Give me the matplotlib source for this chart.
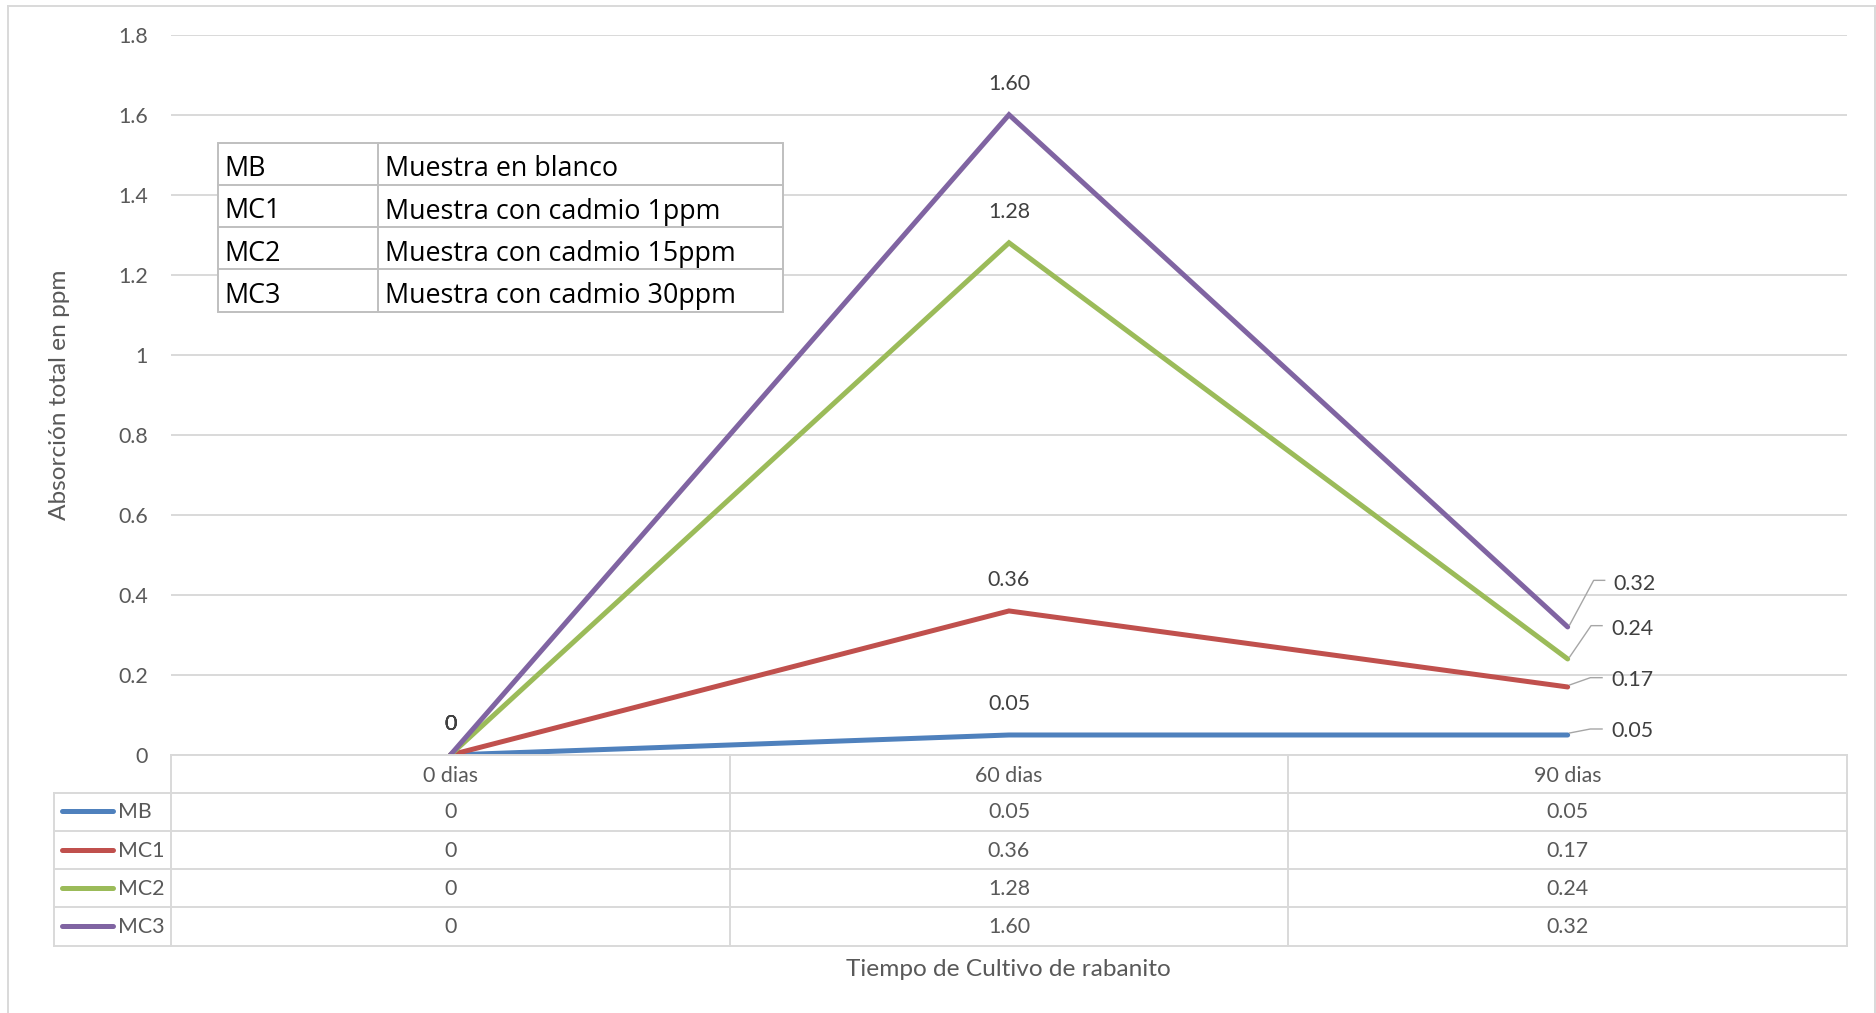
import matplotlib
matplotlib.use("Agg")
import matplotlib.pyplot as plt
from matplotlib.lines import Line2D
from matplotlib.patches import Rectangle
from matplotlib.transforms import blended_transform_factory

# ---- data ----
categories = ["0 dias", "60 dias", "90 dias"]
series_names = ["MB", "MC1", "MC2", "MC3"]
mb = [0, 0.05, 0.05]
mc1 = [0, 0.36, 0.17]
mc2 = [0, 1.28, 0.24]
mc3 = [0, 1.60, 0.32]
descriptions = ["Muestra en blanco", "Muestra con cadmio 1ppm",
                "Muestra con cadmio 15ppm", "Muestra con cadmio 30ppm"]
y_ticks = [0, 0.2, 0.4, 0.6, 0.8, 1.0, 1.2, 1.4, 1.6, 1.8]
y_tick_labels = ["0", "0.2", "0.4", "0.6", "0.8", "1", "1.2", "1.4", "1.6", "1.8"]
x_title = "Tiempo de Cultivo de rabanito"
y_title = "Absorción total en ppm"

series_values = [mb, mc1, mc2, mc3]
colors = ["#4F81BD", "#C0504D", "#9BBB59", "#8064A2"]

# ---- style ----
plt.rcParams["font.family"] = ["Lato", "DejaVu Sans"]
BOX_FONT = ["Open Sans", "DejaVu Sans"]
TXT = "#595959"
LBL = "#404040"
GRID = "#D9D9D9"
W, H = 1876, 1013


def fx(px):
    return px / W


def fy(py):
    return 1 - py / H


def fmt(v):
    return "0" if v == 0 else f"{v:.2f}"


fig = plt.figure(figsize=(W / 100, H / 100), dpi=100)
fig.patch.set_facecolor("white")

# outer chart frame
for xs_, ys_ in [((8, 8), (5.7, H)), ((8, 1874.5), (5.7, 5.7)), ((1874.5, 1874.5), (5.7, H))]:
    fig.add_artist(Line2D([fx(x) for x in xs_], [fy(y) for y in ys_], color=GRID, lw=1.4))

plot_top, plot_bottom, plot_left, plot_right = 34.7, 755, 171, 1847
ax = fig.add_axes([fx(plot_left), fy(plot_bottom),
                   fx(plot_right) - fx(plot_left), fy(plot_top) - fy(plot_bottom)])
ax.set_xlim(-0.5, len(categories) - 0.5)
ax.set_ylim(0, 1.8)
ax.set_yticks(y_ticks, y_tick_labels)
ax.set_xticks([])
ax.tick_params(axis="y", length=0, pad=16.5, labelsize=15.4, labelcolor=TXT)
for s in ax.spines.values():
    s.set_visible(False)
ax.yaxis.grid(True, color=GRID, lw=1.4)
ax.set_axisbelow(True)

xs = list(range(len(categories)))
for vals, c in zip(series_values, colors):
    ax.plot(xs, vals, color=c, lw=3.6, solid_capstyle="round",
            solid_joinstyle="miter", zorder=3)

# data labels above first two points
for vals in series_values:
    for i in range(2):
        ax.annotate(fmt(vals[i]), (xs[i], vals[i]), xytext=(0, 31),
                    textcoords="offset pixels", ha="center", va="center",
                    fontsize=15.4, color=LBL, zorder=4)

# data labels with leader lines at the last point
# (knee dx, knee dy, end dx, text dx, text dy) in pixels
end_label_layout = [(22.7, 6, 34.4, 44, 4.0),
                    (22.7, 9.3, 34.4, 44, 7.3),
                    (23.4, 33.3, 34.4, 44, 30.3),
                    (26, 46.6, 37, 46, 42.6)]
fig.canvas.draw()
for vals, lay in zip(series_values, end_label_layout):
    kx, ky, ex, tx, ty = lay
    px, py = ax.transData.transform((xs[-1], vals[-1]))
    fig.add_artist(Line2D([px + 2, px + kx, px + ex], [py + 2, py + ky, py + ky],
                          transform=None, color="#A6A6A6", lw=1.0, zorder=5))
    fig.text((px + tx) / W, (py + ty) / H, fmt(vals[-1]), ha="left", va="center",
             fontsize=15.4, color=LBL)

# ---- data table below the plot ----
rows = [755, 792.5, 830.5, 869, 907, 945.5]
table_left = 54
TXT_SHIFT = 2  # nudge centred table text slightly downward (pixels)
bt = blended_transform_factory(ax.transData, fig.transFigure)
for b in [-0.5 + k for k in range(len(categories) + 1)]:
    fig.add_artist(Line2D([b, b], [fy(rows[0]), fy(rows[-1])], transform=bt,
                          color=GRID, lw=1.4))
fig.add_artist(Line2D([fx(table_left)] * 2, [fy(rows[1]), fy(rows[-1])],
                      color=GRID, lw=1.4))
fig.add_artist(Line2D([fx(plot_left), fx(plot_right)], [fy(rows[0])] * 2,
                      color=GRID, lw=1.4))
for r in rows[1:]:
    fig.add_artist(Line2D([fx(table_left), fx(plot_right)], [fy(r)] * 2,
                          color=GRID, lw=1.4))

for i, cat in enumerate(categories):
    fig.text(i, fy((rows[0] + rows[1]) / 2 + TXT_SHIFT), cat, transform=bt,
             ha="center", va="center", fontsize=15.4, color=TXT)

for k, (name, vals, c) in enumerate(zip(series_names, series_values, colors)):
    ymid = (rows[k + 1] + rows[k + 2]) / 2
    fig.add_artist(Line2D([fx(62), fx(113)], [fy(ymid)] * 2, color=c, lw=3.6,
                          solid_capstyle="round"))
    yc = fy(ymid + 1)
    fig.text(fx(118), yc, name, ha="left", va="center", fontsize=15.4, color=TXT)
    for i, v in enumerate(vals):
        fig.text(i, yc, fmt(v), transform=bt, ha="center", va="center",
                 fontsize=15.4, color=TXT)

# axis titles
fig.text(fx(1008), fy(969.5), x_title, ha="center", va="center",
         fontsize=17.6, color=TXT)
fig.text(fx(59), fy(395), y_title, ha="center", va="center", rotation=90,
         fontsize=17.6, color=TXT)

# ---- abbreviation key box ----
box_l, box_r, box_mid = 218, 783, 378
box_rows = [142.7, 185, 227.3, 269.3, 312.3]
fig.add_artist(Rectangle((fx(box_l), fy(box_rows[-1])), fx(box_r) - fx(box_l),
                         fy(box_rows[0]) - fy(box_rows[-1]), transform=fig.transFigure,
                         facecolor="white", edgecolor="#BFBFBF", lw=1.4, zorder=2))
fig.add_artist(Line2D([fx(box_mid)] * 2, [fy(box_rows[0]), fy(box_rows[-1])],
                      color="#BFBFBF", lw=1.4, zorder=3))
for r in box_rows[1:-1]:
    fig.add_artist(Line2D([fx(box_l), fx(box_r)], [fy(r)] * 2,
                          color="#BFBFBF", lw=1.4, zorder=3))
for k, (name, desc) in enumerate(zip(series_names, descriptions)):
    base = fy(box_rows[k] + 33.5)
    fig.text(fx(224.5), base, name, ha="left", va="baseline", fontsize=19.4,
             family=BOX_FONT, color="black", zorder=4)
    fig.text(fx(385), base, desc, ha="left", va="baseline", fontsize=19.4,
             family=BOX_FONT, color="black", zorder=4)

fig.savefig("out.png", dpi=100, facecolor="white")
